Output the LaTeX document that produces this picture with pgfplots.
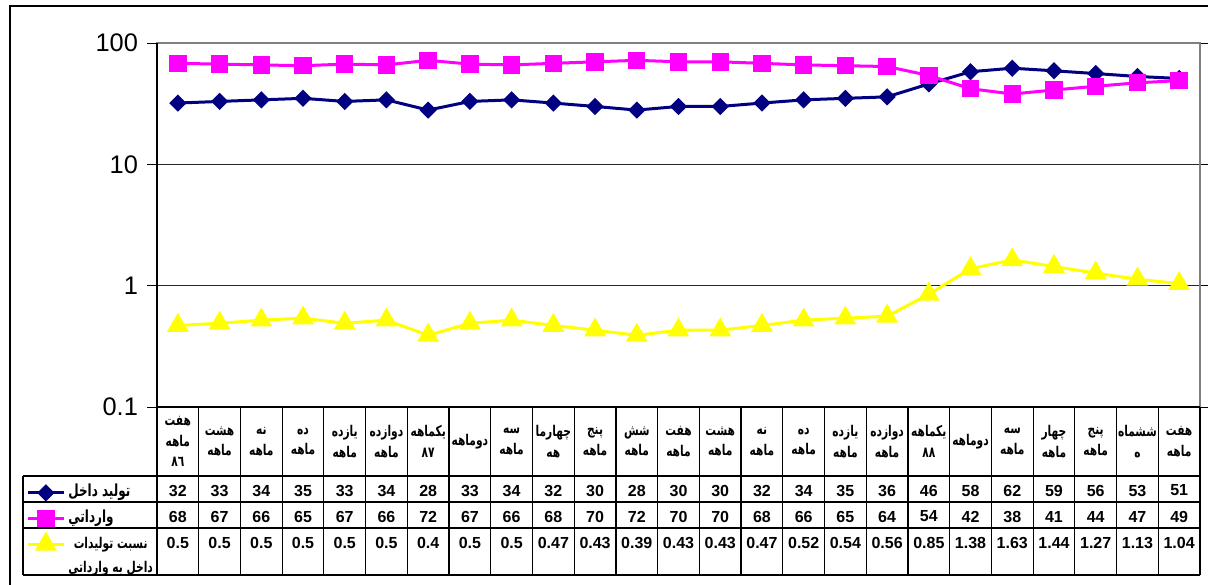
\documentclass[border=0pt]{standalone}
\usepackage{fontspec}
\setmainfont{Liberation Sans}
\newfontfamily\fa[Script=Arabic,FakeStretch=0.72]{DejaVu Sans}
\usepackage{pgfplots}
\pgfplotsset{compat=1.18}
\usepackage{pgfplotstable}
\TeXXeTstate=1
\newcommand\R[1]{\beginR#1\endR}
\definecolor{navyc}{RGB}{0,0,128}
\definecolor{magc}{RGB}{255,0,255}
\definecolor{yelc}{RGB}{255,255,0}

\pgfplotstableread{
x dom imp ratio
0 32 68 0.47
1 33 67 0.49
2 34 66 0.52
3 35 65 0.54
4 33 67 0.49
5 34 66 0.52
6 28 72 0.39
7 33 67 0.49
8 34 66 0.52
9 32 68 0.47
10 30 70 0.43
11 28 72 0.39
12 30 70 0.43
13 30 70 0.43
14 32 68 0.47
15 34 66 0.52
16 35 65 0.54
17 36 64 0.56
18 46 54 0.85
19 58 42 1.38
20 62 38 1.63
21 59 41 1.44
22 56 44 1.27
23 53 47 1.13
24 51 49 1.04
}\data

\begin{document}
\begin{tikzpicture}
\useasboundingbox (0pt,0pt) rectangle (604pt,-292pt);
\begin{scope}[x=0.5pt,y=-0.5pt]
\draw[line width=0.75pt] (10,600) -- (10,6) -- (1220,6);
\end{scope}
\begin{axis}[
  at={(78.5pt,-203.5pt)}, anchor=south west,
  scale only axis, width=521.5pt, height=182pt,
  ymode=log, ymin=0.1, ymax=100, xmin=-0.5, xmax=24.5,
  xtick=\empty, ytick={0.1,1,10,100}, yticklabels={0.1,1,10,100},
  yminorticks=false, ymajorgrids,
  grid style={black!85,line width=0.5pt},
  axis line style={draw=gray,line width=1pt},
  tick align=outside, major tick length=5pt,
  ytick style={black,line width=0.5pt},
  yticklabel style={font=\fontsize{12.7}{14}\selectfont,xshift=-1pt},
  clip=false,
  legend image code/.code={\draw[mark repeat=2,mark phase=2] plot coordinates {(0pt,0pt) (9pt,0pt) (18pt,0pt)};},
  legend cell align=left,
  legend style={at={(-0.1256,-0.21)}, anchor=north west, draw=none, fill=none, inner sep=0pt,
    font=\fa\bfseries\fontsize{8.3}{12}\selectfont, row sep=3.7pt, column sep=1pt,
    nodes={inner sep=0.5pt, text height=6pt, text depth=2pt}},
]
\addplot[color=navyc, line width=1.5pt, mark=square*, mark size=2.3pt, mark options={rotate=45}] table[x=x,y=dom]{\data};
\addlegendentry{\R{تولید داخل}}
\addplot[color=magc, line width=1.5pt, mark=square*, mark size=3.6pt] table[x=x,y=imp]{\data};
\addlegendentry{\R{وارداتي}}
\addplot[color=yelc, line width=1.5pt, mark=triangle*, mark size=4.8pt] table[x=x,y=ratio]{\data};
\addlegendentry{\fontsize{7.4}{12}\selectfont\begin{tabular}[t]{@{}c@{}}\R{نسبت تولیدات}\\\R{داخل به وارداتي}\end{tabular}}
\end{axis}
\begin{scope}[x=0.5pt,y=-0.5pt]
\draw[gray,line width=1pt] (157,43) -- (1200,43) -- (1200,407);
\draw[black,line width=0.75pt] (157,43) -- (157,407);
\draw[black,line width=0.6pt] (157,407) -- (1200,407);
\foreach \yy in {476,502,528,575} \draw[black,line width=0.6pt] (23,\yy) -- (1200,\yy);
\draw[black,line width=0.6pt] (23,476) -- (23,575);
\foreach \k in {0,...,25} \draw[black,line width=0.6pt] ({157+41.72*\k},407) -- ({157+41.72*\k},575);
\foreach \t [count=\i from 0] in {
 {\R{هفت}\\\R{ماهه}\\\R{٨٦}},
 {\R{هشت}\\\R{ماهه}},
 {\R{نه}\\\R{ماهه}},
 {\R{ده}\\\R{ماهه}},
 {\R{یازده}\\\R{ماهه}},
 {\R{دوازده}\\\R{ماهه}},
 {\R{یکماهه}\\\R{٨٧}},
 {\R{دوماهه}},
 {\R{سه}\\\R{ماهه}},
 {\R{چهارما}\\\R{هه}},
 {\R{پنج}\\\R{ماهه}},
 {\R{شش}\\\R{ماهه}},
 {\R{هفت}\\\R{ماهه}},
 {\R{هشت}\\\R{ماهه}},
 {\R{نه}\\\R{ماهه}},
 {\R{ده}\\\R{ماهه}},
 {\R{یازده}\\\R{ماهه}},
 {\R{دوازده}\\\R{ماهه}},
 {\R{یکماهه}\\\R{٨٨}},
 {\R{دوماهه}},
 {\R{سه}\\\R{ماهه}},
 {\R{چهار}\\\R{ماهه}},
 {\R{پنج}\\\R{ماهه}},
 {\R{ششماه}\\\R{ه}},
 {\R{هفت}\\\R{ماهه}}}
 \node[align=center,font=\fa\bfseries\fontsize{7.4}{10.3}\selectfont,inner sep=0pt] at ({157+41.72*(\i+0.5)},441.5) {\t};
\foreach \v [count=\i from 0] in {32,33,34,35,33,34,28,33,34,32,30,28,30,30,32,34,35,36,46,58,62,59,56,53,51}
 \node[font=\bfseries\fontsize{8}{9}\selectfont] at ({157+41.72*(\i+0.5)},490.5) {\v};
\foreach \v [count=\i from 0] in {68,67,66,65,67,66,72,67,66,68,70,72,70,70,68,66,65,64,54,42,38,41,44,47,49}
 \node[font=\bfseries\fontsize{8}{9}\selectfont] at ({157+41.72*(\i+0.5)},516.5) {\v};
\foreach \v [count=\i from 0] in {0.5,0.5,0.5,0.5,0.5,0.5,0.4,0.5,0.5,0.47,0.43,0.39,0.43,0.43,0.47,0.52,0.54,0.56,0.85,1.38,1.63,1.44,1.27,1.13,1.04}
 \node[font=\bfseries\fontsize{8}{9}\selectfont] at ({157+41.72*(\i+0.5)},543) {\v};
\end{scope}
\end{tikzpicture}
\end{document}
